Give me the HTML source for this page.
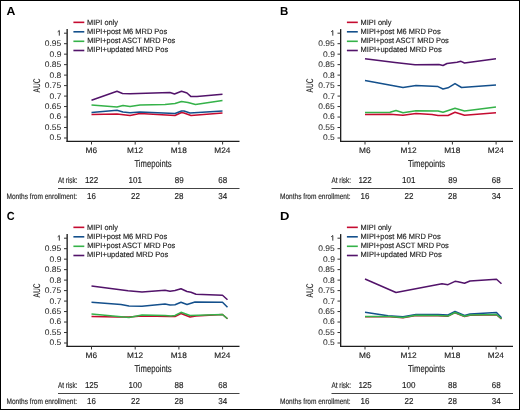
<!DOCTYPE html>
<html><head><meta charset="utf-8"><style>
html,body{margin:0;padding:0;background:#fff;}
svg{display:block;will-change:transform;}
text{font-family:"Liberation Sans",sans-serif;text-rendering:geometricPrecision;}
</style></head><body>
<svg width="520" height="410" viewBox="0 0 520 410">
<rect x="0" y="0" width="520" height="410" fill="#fff"/>
<g transform="translate(0,0)">
<text transform="translate(6.585,14.950) scale(1.0513,1)" font-size="11.7" font-weight="700" fill="#000">A</text>
<line x1="73.4" x2="84.3" y1="22.35" y2="22.35" stroke="#c50b30" stroke-width="1.6"/>
<text transform="translate(87.123,24.500) scale(0.9619,1)" font-size="7.7" font-weight="400" fill="#1e1e1e" stroke="#1e1e1e" stroke-width="0.15">MIPI only</text>
<line x1="73.4" x2="84.3" y1="31.8" y2="31.8" stroke="#14508c" stroke-width="1.6"/>
<text transform="translate(87.119,33.800) scale(0.9683,1)" font-size="7.7" font-weight="400" fill="#1e1e1e" stroke="#1e1e1e" stroke-width="0.15">MIPI+post M6 MRD Pos</text>
<line x1="73.4" x2="84.3" y1="41.3" y2="41.3" stroke="#35b249" stroke-width="1.6"/>
<text transform="translate(87.125,43.100) scale(0.9583,1)" font-size="7.7" font-weight="400" fill="#1e1e1e" stroke="#1e1e1e" stroke-width="0.15">MIPI+post ASCT MRD Pos</text>
<line x1="73.4" x2="84.3" y1="50.5" y2="50.5" stroke="#52136a" stroke-width="1.6"/>
<text transform="translate(87.115,52.400) scale(0.9757,1)" font-size="7.7" font-weight="400" fill="#1e1e1e" stroke="#1e1e1e" stroke-width="0.15">MIPI+updated MRD Pos</text>
<line x1="67.15" x2="67.15" y1="29.1" y2="142" stroke="#1e1e1e" stroke-width="1.35"/>
<line x1="66.5" x2="239.5" y1="141.35" y2="141.35" stroke="#1e1e1e" stroke-width="1.3"/>
<line x1="64" x2="67" y1="33.20" y2="33.20" stroke="#333333" stroke-width="1.0"/>
<path d="M57.7,31.80 L59.3,30.50 L59.3,35.65" fill="none" stroke="#2a2a2a" stroke-width="0.95" stroke-linejoin="miter"/>
<line x1="64" x2="67" y1="43.68" y2="43.68" stroke="#333333" stroke-width="1.0"/>
<text transform="translate(44.791,46.130) scale(1.0458,1)" font-size="8.1" font-weight="400" fill="#2a2a2a" stroke="#2a2a2a" stroke-width="0.05">0.95</text>
<line x1="64" x2="67" y1="54.16" y2="54.16" stroke="#333333" stroke-width="1.0"/>
<text transform="translate(49.601,56.610) scale(1.0458,1)" font-size="8.1" font-weight="400" fill="#2a2a2a" stroke="#2a2a2a" stroke-width="0.05">0.9</text>
<line x1="64" x2="67" y1="64.64" y2="64.64" stroke="#333333" stroke-width="1.0"/>
<text transform="translate(44.791,67.090) scale(1.0458,1)" font-size="8.1" font-weight="400" fill="#2a2a2a" stroke="#2a2a2a" stroke-width="0.05">0.85</text>
<line x1="64" x2="67" y1="75.12" y2="75.12" stroke="#333333" stroke-width="1.0"/>
<text transform="translate(49.497,77.570) scale(1.0458,1)" font-size="8.1" font-weight="400" fill="#2a2a2a" stroke="#2a2a2a" stroke-width="0.05">0.8</text>
<line x1="64" x2="67" y1="85.60" y2="85.60" stroke="#333333" stroke-width="1.0"/>
<text transform="translate(44.791,88.050) scale(1.0458,1)" font-size="8.1" font-weight="400" fill="#2a2a2a" stroke="#2a2a2a" stroke-width="0.05">0.75</text>
<line x1="64" x2="67" y1="96.08" y2="96.08" stroke="#333333" stroke-width="1.0"/>
<text transform="translate(49.601,98.530) scale(1.0458,1)" font-size="8.1" font-weight="400" fill="#2a2a2a" stroke="#2a2a2a" stroke-width="0.05">0.7</text>
<line x1="64" x2="67" y1="106.56" y2="106.56" stroke="#333333" stroke-width="1.0"/>
<text transform="translate(44.791,109.010) scale(1.0458,1)" font-size="8.1" font-weight="400" fill="#2a2a2a" stroke="#2a2a2a" stroke-width="0.05">0.65</text>
<line x1="64" x2="67" y1="117.04" y2="117.04" stroke="#333333" stroke-width="1.0"/>
<text transform="translate(49.497,119.490) scale(1.0458,1)" font-size="8.1" font-weight="400" fill="#2a2a2a" stroke="#2a2a2a" stroke-width="0.05">0.6</text>
<line x1="64" x2="67" y1="127.52" y2="127.52" stroke="#333333" stroke-width="1.0"/>
<text transform="translate(44.791,129.970) scale(1.0458,1)" font-size="8.1" font-weight="400" fill="#2a2a2a" stroke="#2a2a2a" stroke-width="0.05">0.55</text>
<line x1="64" x2="67" y1="138.00" y2="138.00" stroke="#333333" stroke-width="1.0"/>
<text transform="translate(49.497,140.450) scale(1.0458,1)" font-size="8.1" font-weight="400" fill="#2a2a2a" stroke="#2a2a2a" stroke-width="0.05">0.5</text>
<line x1="91.5" x2="91.5" y1="141.3" y2="144.5" stroke="#333333" stroke-width="1.0"/>
<text transform="translate(85.607,153.300) scale(1.0338,1)" font-size="8.0" font-weight="400" fill="#1e1e1e" stroke="#1e1e1e" stroke-width="0.15">M6</text>
<line x1="135.2" x2="135.2" y1="141.3" y2="144.5" stroke="#333333" stroke-width="1.0"/>
<text transform="translate(127.033,153.300) scale(1.0338,1)" font-size="8.0" font-weight="400" fill="#1e1e1e" stroke="#1e1e1e" stroke-width="0.15">M12</text>
<line x1="178.9" x2="178.9" y1="141.3" y2="144.5" stroke="#333333" stroke-width="1.0"/>
<text transform="translate(170.681,153.300) scale(1.0338,1)" font-size="8.0" font-weight="400" fill="#1e1e1e" stroke="#1e1e1e" stroke-width="0.15">M18</text>
<line x1="222.6" x2="222.6" y1="141.3" y2="144.5" stroke="#333333" stroke-width="1.0"/>
<text transform="translate(214.330,153.300) scale(1.0338,1)" font-size="8.0" font-weight="400" fill="#1e1e1e" stroke="#1e1e1e" stroke-width="0.15">M24</text>
<text transform="translate(134.447,166.500) scale(0.7667,1)" font-size="10" font-weight="400" fill="#1e1e1e" stroke="#1e1e1e" stroke-width="0.15">Timepoints</text>
<g transform="translate(39.6,92.5) rotate(-90)"><text transform="translate(0.068,0) scale(0.6847,1)" font-size="9.7" fill="#2a2a2a" stroke="#2a2a2a" stroke-width="0.06">AUC</text></g>
<text transform="translate(57.977,182.750) scale(0.7702,1)" font-size="8.3" font-weight="400" fill="#1e1e1e" stroke="#1e1e1e" stroke-width="0.15">At risk:</text>
<text transform="translate(6.509,198.900) scale(0.8188,1)" font-size="8.0" font-weight="400" fill="#1e1e1e" stroke="#1e1e1e" stroke-width="0.15">Months from enrollment:</text>
<text transform="translate(84.890,182.800) scale(0.9328,1)" font-size="8.6" font-weight="400" fill="#1e1e1e" stroke="#1e1e1e" stroke-width="0.15">122</text>
<text transform="translate(87.082,199.000) scale(0.9328,1)" font-size="8.6" font-weight="400" fill="#1e1e1e" stroke="#1e1e1e" stroke-width="0.15">16</text>
<text transform="translate(128.590,182.800) scale(0.9328,1)" font-size="8.6" font-weight="400" fill="#1e1e1e" stroke="#1e1e1e" stroke-width="0.15">101</text>
<text transform="translate(130.922,199.000) scale(0.9328,1)" font-size="8.6" font-weight="400" fill="#1e1e1e" stroke="#1e1e1e" stroke-width="0.15">22</text>
<text transform="translate(174.669,182.800) scale(0.9328,1)" font-size="8.6" font-weight="400" fill="#1e1e1e" stroke="#1e1e1e" stroke-width="0.15">89</text>
<text transform="translate(174.576,199.000) scale(0.9328,1)" font-size="8.6" font-weight="400" fill="#1e1e1e" stroke="#1e1e1e" stroke-width="0.15">28</text>
<text transform="translate(218.276,182.800) scale(0.9328,1)" font-size="8.6" font-weight="400" fill="#1e1e1e" stroke="#1e1e1e" stroke-width="0.15">68</text>
<text transform="translate(218.322,199.000) scale(0.9328,1)" font-size="8.6" font-weight="400" fill="#1e1e1e" stroke="#1e1e1e" stroke-width="0.15">34</text>
<line x1="58" x2="239.5" y1="188.5" y2="188.5" stroke="#444444" stroke-width="1.2"/>
<polyline points="91.5,114.5 117.0,114.0 130.0,115.5 140.0,113.5 175.0,115.5 181.5,112.5 184.0,113.0 191.0,115.5 222.5,113.0" fill="none" stroke="#c50b30" stroke-width="1.5" stroke-linejoin="round"/>
<polyline points="91.5,112.5 117.0,110.3 123.0,112.0 130.0,112.7 140.0,112.0 175.0,113.5 181.5,111.0 184.0,111.0 190.0,113.0 222.5,111.0" fill="none" stroke="#14508c" stroke-width="1.5" stroke-linejoin="round"/>
<polyline points="91.5,105.0 117.0,107.0 123.0,105.5 130.0,106.5 140.0,105.0 165.0,104.5 175.0,103.5 181.5,101.5 188.0,102.5 195.5,104.5 222.5,100.5" fill="none" stroke="#35b249" stroke-width="1.5" stroke-linejoin="round"/>
<polyline points="91.5,100.3 117.0,91.3 122.5,93.5 130.0,93.7 170.0,92.5 174.5,94.0 181.5,91.3 184.0,92.0 187.0,93.0 191.0,96.6 197.0,96.4 222.5,94.2" fill="none" stroke="#52136a" stroke-width="1.5" stroke-linejoin="round"/>
</g>
<g transform="translate(273.5,0)">
<text transform="translate(6.611,14.950) scale(0.9859,1)" font-size="11.7" font-weight="700" fill="#000">B</text>
<line x1="73.4" x2="84.3" y1="22.35" y2="22.35" stroke="#c50b30" stroke-width="1.6"/>
<text transform="translate(87.123,24.500) scale(0.9619,1)" font-size="7.7" font-weight="400" fill="#1e1e1e" stroke="#1e1e1e" stroke-width="0.15">MIPI only</text>
<line x1="73.4" x2="84.3" y1="31.8" y2="31.8" stroke="#14508c" stroke-width="1.6"/>
<text transform="translate(87.119,33.800) scale(0.9683,1)" font-size="7.7" font-weight="400" fill="#1e1e1e" stroke="#1e1e1e" stroke-width="0.15">MIPI+post M6 MRD Pos</text>
<line x1="73.4" x2="84.3" y1="41.3" y2="41.3" stroke="#35b249" stroke-width="1.6"/>
<text transform="translate(87.125,43.100) scale(0.9583,1)" font-size="7.7" font-weight="400" fill="#1e1e1e" stroke="#1e1e1e" stroke-width="0.15">MIPI+post ASCT MRD Pos</text>
<line x1="73.4" x2="84.3" y1="50.5" y2="50.5" stroke="#52136a" stroke-width="1.6"/>
<text transform="translate(87.115,52.400) scale(0.9757,1)" font-size="7.7" font-weight="400" fill="#1e1e1e" stroke="#1e1e1e" stroke-width="0.15">MIPI+updated MRD Pos</text>
<line x1="67.15" x2="67.15" y1="29.1" y2="142" stroke="#1e1e1e" stroke-width="1.35"/>
<line x1="66.5" x2="239.5" y1="141.35" y2="141.35" stroke="#1e1e1e" stroke-width="1.3"/>
<line x1="64" x2="67" y1="33.20" y2="33.20" stroke="#333333" stroke-width="1.0"/>
<path d="M57.7,31.80 L59.3,30.50 L59.3,35.65" fill="none" stroke="#2a2a2a" stroke-width="0.95" stroke-linejoin="miter"/>
<line x1="64" x2="67" y1="43.68" y2="43.68" stroke="#333333" stroke-width="1.0"/>
<text transform="translate(44.791,46.130) scale(1.0458,1)" font-size="8.1" font-weight="400" fill="#2a2a2a" stroke="#2a2a2a" stroke-width="0.05">0.95</text>
<line x1="64" x2="67" y1="54.16" y2="54.16" stroke="#333333" stroke-width="1.0"/>
<text transform="translate(49.601,56.610) scale(1.0458,1)" font-size="8.1" font-weight="400" fill="#2a2a2a" stroke="#2a2a2a" stroke-width="0.05">0.9</text>
<line x1="64" x2="67" y1="64.64" y2="64.64" stroke="#333333" stroke-width="1.0"/>
<text transform="translate(44.791,67.090) scale(1.0458,1)" font-size="8.1" font-weight="400" fill="#2a2a2a" stroke="#2a2a2a" stroke-width="0.05">0.85</text>
<line x1="64" x2="67" y1="75.12" y2="75.12" stroke="#333333" stroke-width="1.0"/>
<text transform="translate(49.497,77.570) scale(1.0458,1)" font-size="8.1" font-weight="400" fill="#2a2a2a" stroke="#2a2a2a" stroke-width="0.05">0.8</text>
<line x1="64" x2="67" y1="85.60" y2="85.60" stroke="#333333" stroke-width="1.0"/>
<text transform="translate(44.791,88.050) scale(1.0458,1)" font-size="8.1" font-weight="400" fill="#2a2a2a" stroke="#2a2a2a" stroke-width="0.05">0.75</text>
<line x1="64" x2="67" y1="96.08" y2="96.08" stroke="#333333" stroke-width="1.0"/>
<text transform="translate(49.601,98.530) scale(1.0458,1)" font-size="8.1" font-weight="400" fill="#2a2a2a" stroke="#2a2a2a" stroke-width="0.05">0.7</text>
<line x1="64" x2="67" y1="106.56" y2="106.56" stroke="#333333" stroke-width="1.0"/>
<text transform="translate(44.791,109.010) scale(1.0458,1)" font-size="8.1" font-weight="400" fill="#2a2a2a" stroke="#2a2a2a" stroke-width="0.05">0.65</text>
<line x1="64" x2="67" y1="117.04" y2="117.04" stroke="#333333" stroke-width="1.0"/>
<text transform="translate(49.497,119.490) scale(1.0458,1)" font-size="8.1" font-weight="400" fill="#2a2a2a" stroke="#2a2a2a" stroke-width="0.05">0.6</text>
<line x1="64" x2="67" y1="127.52" y2="127.52" stroke="#333333" stroke-width="1.0"/>
<text transform="translate(44.791,129.970) scale(1.0458,1)" font-size="8.1" font-weight="400" fill="#2a2a2a" stroke="#2a2a2a" stroke-width="0.05">0.55</text>
<line x1="64" x2="67" y1="138.00" y2="138.00" stroke="#333333" stroke-width="1.0"/>
<text transform="translate(49.497,140.450) scale(1.0458,1)" font-size="8.1" font-weight="400" fill="#2a2a2a" stroke="#2a2a2a" stroke-width="0.05">0.5</text>
<line x1="91.5" x2="91.5" y1="141.3" y2="144.5" stroke="#333333" stroke-width="1.0"/>
<text transform="translate(85.607,153.300) scale(1.0338,1)" font-size="8.0" font-weight="400" fill="#1e1e1e" stroke="#1e1e1e" stroke-width="0.15">M6</text>
<line x1="135.2" x2="135.2" y1="141.3" y2="144.5" stroke="#333333" stroke-width="1.0"/>
<text transform="translate(127.033,153.300) scale(1.0338,1)" font-size="8.0" font-weight="400" fill="#1e1e1e" stroke="#1e1e1e" stroke-width="0.15">M12</text>
<line x1="178.9" x2="178.9" y1="141.3" y2="144.5" stroke="#333333" stroke-width="1.0"/>
<text transform="translate(170.681,153.300) scale(1.0338,1)" font-size="8.0" font-weight="400" fill="#1e1e1e" stroke="#1e1e1e" stroke-width="0.15">M18</text>
<line x1="222.6" x2="222.6" y1="141.3" y2="144.5" stroke="#333333" stroke-width="1.0"/>
<text transform="translate(214.330,153.300) scale(1.0338,1)" font-size="8.0" font-weight="400" fill="#1e1e1e" stroke="#1e1e1e" stroke-width="0.15">M24</text>
<text transform="translate(134.447,166.500) scale(0.7667,1)" font-size="10" font-weight="400" fill="#1e1e1e" stroke="#1e1e1e" stroke-width="0.15">Timepoints</text>
<g transform="translate(39.6,92.5) rotate(-90)"><text transform="translate(0.068,0) scale(0.6847,1)" font-size="9.7" fill="#2a2a2a" stroke="#2a2a2a" stroke-width="0.06">AUC</text></g>
<text transform="translate(57.977,182.750) scale(0.7702,1)" font-size="8.3" font-weight="400" fill="#1e1e1e" stroke="#1e1e1e" stroke-width="0.15">At risk:</text>
<text transform="translate(6.509,198.900) scale(0.8188,1)" font-size="8.0" font-weight="400" fill="#1e1e1e" stroke="#1e1e1e" stroke-width="0.15">Months from enrollment:</text>
<text transform="translate(84.890,182.800) scale(0.9328,1)" font-size="8.6" font-weight="400" fill="#1e1e1e" stroke="#1e1e1e" stroke-width="0.15">122</text>
<text transform="translate(87.082,199.000) scale(0.9328,1)" font-size="8.6" font-weight="400" fill="#1e1e1e" stroke="#1e1e1e" stroke-width="0.15">16</text>
<text transform="translate(128.590,182.800) scale(0.9328,1)" font-size="8.6" font-weight="400" fill="#1e1e1e" stroke="#1e1e1e" stroke-width="0.15">101</text>
<text transform="translate(130.922,199.000) scale(0.9328,1)" font-size="8.6" font-weight="400" fill="#1e1e1e" stroke="#1e1e1e" stroke-width="0.15">22</text>
<text transform="translate(174.669,182.800) scale(0.9328,1)" font-size="8.6" font-weight="400" fill="#1e1e1e" stroke="#1e1e1e" stroke-width="0.15">89</text>
<text transform="translate(174.576,199.000) scale(0.9328,1)" font-size="8.6" font-weight="400" fill="#1e1e1e" stroke="#1e1e1e" stroke-width="0.15">28</text>
<text transform="translate(218.276,182.800) scale(0.9328,1)" font-size="8.6" font-weight="400" fill="#1e1e1e" stroke="#1e1e1e" stroke-width="0.15">68</text>
<text transform="translate(218.322,199.000) scale(0.9328,1)" font-size="8.6" font-weight="400" fill="#1e1e1e" stroke="#1e1e1e" stroke-width="0.15">34</text>
<line x1="58" x2="239.5" y1="188.5" y2="188.5" stroke="#444444" stroke-width="1.2"/>
<polyline points="91.5,114.5 116.5,114.2 129.5,115.3 142.5,113.5 158.5,114.5 164.5,115.5 174.5,115.5 181.5,112.3 191.0,115.3 222.5,112.7" fill="none" stroke="#c50b30" stroke-width="1.5" stroke-linejoin="round"/>
<polyline points="91.5,80.5 129.5,87.5 142.5,85.5 164.5,86.6 169.5,89.0 174.5,87.8 181.5,83.6 188.0,87.5 222.5,85.0" fill="none" stroke="#14508c" stroke-width="1.5" stroke-linejoin="round"/>
<polyline points="91.5,112.5 116.5,112.3 122.5,110.5 129.5,112.7 142.5,110.7 164.5,111.0 169.5,112.3 181.5,108.3 191.0,111.0 222.5,107.0" fill="none" stroke="#35b249" stroke-width="1.5" stroke-linejoin="round"/>
<polyline points="91.5,58.7 121.5,62.5 141.5,64.7 165.5,64.6 169.5,65.5 173.5,63.5 183.5,62.2 187.5,61.3 191.0,63.0 222.5,58.7" fill="none" stroke="#52136a" stroke-width="1.5" stroke-linejoin="round"/>
</g>
<g transform="translate(0,205)">
<text transform="translate(6.633,14.950) scale(0.9342,1)" font-size="11.7" font-weight="700" fill="#000">C</text>
<line x1="73.4" x2="84.3" y1="22.35" y2="22.35" stroke="#c50b30" stroke-width="1.6"/>
<text transform="translate(87.123,24.500) scale(0.9619,1)" font-size="7.7" font-weight="400" fill="#1e1e1e" stroke="#1e1e1e" stroke-width="0.15">MIPI only</text>
<line x1="73.4" x2="84.3" y1="31.8" y2="31.8" stroke="#14508c" stroke-width="1.6"/>
<text transform="translate(87.119,33.800) scale(0.9683,1)" font-size="7.7" font-weight="400" fill="#1e1e1e" stroke="#1e1e1e" stroke-width="0.15">MIPI+post M6 MRD Pos</text>
<line x1="73.4" x2="84.3" y1="41.3" y2="41.3" stroke="#35b249" stroke-width="1.6"/>
<text transform="translate(87.125,43.100) scale(0.9583,1)" font-size="7.7" font-weight="400" fill="#1e1e1e" stroke="#1e1e1e" stroke-width="0.15">MIPI+post ASCT MRD Pos</text>
<line x1="73.4" x2="84.3" y1="50.5" y2="50.5" stroke="#52136a" stroke-width="1.6"/>
<text transform="translate(87.115,52.400) scale(0.9757,1)" font-size="7.7" font-weight="400" fill="#1e1e1e" stroke="#1e1e1e" stroke-width="0.15">MIPI+updated MRD Pos</text>
<line x1="67.15" x2="67.15" y1="29.1" y2="142" stroke="#1e1e1e" stroke-width="1.35"/>
<line x1="66.5" x2="239.5" y1="141.35" y2="141.35" stroke="#1e1e1e" stroke-width="1.3"/>
<line x1="64" x2="67" y1="33.20" y2="33.20" stroke="#333333" stroke-width="1.0"/>
<path d="M57.7,31.80 L59.3,30.50 L59.3,35.65" fill="none" stroke="#2a2a2a" stroke-width="0.95" stroke-linejoin="miter"/>
<line x1="64" x2="67" y1="43.68" y2="43.68" stroke="#333333" stroke-width="1.0"/>
<text transform="translate(44.791,46.130) scale(1.0458,1)" font-size="8.1" font-weight="400" fill="#2a2a2a" stroke="#2a2a2a" stroke-width="0.05">0.95</text>
<line x1="64" x2="67" y1="54.16" y2="54.16" stroke="#333333" stroke-width="1.0"/>
<text transform="translate(49.601,56.610) scale(1.0458,1)" font-size="8.1" font-weight="400" fill="#2a2a2a" stroke="#2a2a2a" stroke-width="0.05">0.9</text>
<line x1="64" x2="67" y1="64.64" y2="64.64" stroke="#333333" stroke-width="1.0"/>
<text transform="translate(44.791,67.090) scale(1.0458,1)" font-size="8.1" font-weight="400" fill="#2a2a2a" stroke="#2a2a2a" stroke-width="0.05">0.85</text>
<line x1="64" x2="67" y1="75.12" y2="75.12" stroke="#333333" stroke-width="1.0"/>
<text transform="translate(49.497,77.570) scale(1.0458,1)" font-size="8.1" font-weight="400" fill="#2a2a2a" stroke="#2a2a2a" stroke-width="0.05">0.8</text>
<line x1="64" x2="67" y1="85.60" y2="85.60" stroke="#333333" stroke-width="1.0"/>
<text transform="translate(44.791,88.050) scale(1.0458,1)" font-size="8.1" font-weight="400" fill="#2a2a2a" stroke="#2a2a2a" stroke-width="0.05">0.75</text>
<line x1="64" x2="67" y1="96.08" y2="96.08" stroke="#333333" stroke-width="1.0"/>
<text transform="translate(49.601,98.530) scale(1.0458,1)" font-size="8.1" font-weight="400" fill="#2a2a2a" stroke="#2a2a2a" stroke-width="0.05">0.7</text>
<line x1="64" x2="67" y1="106.56" y2="106.56" stroke="#333333" stroke-width="1.0"/>
<text transform="translate(44.791,109.010) scale(1.0458,1)" font-size="8.1" font-weight="400" fill="#2a2a2a" stroke="#2a2a2a" stroke-width="0.05">0.65</text>
<line x1="64" x2="67" y1="117.04" y2="117.04" stroke="#333333" stroke-width="1.0"/>
<text transform="translate(49.497,119.490) scale(1.0458,1)" font-size="8.1" font-weight="400" fill="#2a2a2a" stroke="#2a2a2a" stroke-width="0.05">0.6</text>
<line x1="64" x2="67" y1="127.52" y2="127.52" stroke="#333333" stroke-width="1.0"/>
<text transform="translate(44.791,129.970) scale(1.0458,1)" font-size="8.1" font-weight="400" fill="#2a2a2a" stroke="#2a2a2a" stroke-width="0.05">0.55</text>
<line x1="64" x2="67" y1="138.00" y2="138.00" stroke="#333333" stroke-width="1.0"/>
<text transform="translate(49.497,140.450) scale(1.0458,1)" font-size="8.1" font-weight="400" fill="#2a2a2a" stroke="#2a2a2a" stroke-width="0.05">0.5</text>
<line x1="91.5" x2="91.5" y1="141.3" y2="144.5" stroke="#333333" stroke-width="1.0"/>
<text transform="translate(85.607,153.300) scale(1.0338,1)" font-size="8.0" font-weight="400" fill="#1e1e1e" stroke="#1e1e1e" stroke-width="0.15">M6</text>
<line x1="135.2" x2="135.2" y1="141.3" y2="144.5" stroke="#333333" stroke-width="1.0"/>
<text transform="translate(127.033,153.300) scale(1.0338,1)" font-size="8.0" font-weight="400" fill="#1e1e1e" stroke="#1e1e1e" stroke-width="0.15">M12</text>
<line x1="178.9" x2="178.9" y1="141.3" y2="144.5" stroke="#333333" stroke-width="1.0"/>
<text transform="translate(170.681,153.300) scale(1.0338,1)" font-size="8.0" font-weight="400" fill="#1e1e1e" stroke="#1e1e1e" stroke-width="0.15">M18</text>
<line x1="222.6" x2="222.6" y1="141.3" y2="144.5" stroke="#333333" stroke-width="1.0"/>
<text transform="translate(214.330,153.300) scale(1.0338,1)" font-size="8.0" font-weight="400" fill="#1e1e1e" stroke="#1e1e1e" stroke-width="0.15">M24</text>
<text transform="translate(134.447,166.500) scale(0.7667,1)" font-size="10" font-weight="400" fill="#1e1e1e" stroke="#1e1e1e" stroke-width="0.15">Timepoints</text>
<g transform="translate(39.6,92.5) rotate(-90)"><text transform="translate(0.068,0) scale(0.6847,1)" font-size="9.7" fill="#2a2a2a" stroke="#2a2a2a" stroke-width="0.06">AUC</text></g>
<text transform="translate(57.977,182.750) scale(0.7702,1)" font-size="8.3" font-weight="400" fill="#1e1e1e" stroke="#1e1e1e" stroke-width="0.15">At risk:</text>
<text transform="translate(6.509,198.900) scale(0.8188,1)" font-size="8.0" font-weight="400" fill="#1e1e1e" stroke="#1e1e1e" stroke-width="0.15">Months from enrollment:</text>
<text transform="translate(84.890,182.800) scale(0.9328,1)" font-size="8.6" font-weight="400" fill="#1e1e1e" stroke="#1e1e1e" stroke-width="0.15">125</text>
<text transform="translate(87.082,199.000) scale(0.9328,1)" font-size="8.6" font-weight="400" fill="#1e1e1e" stroke="#1e1e1e" stroke-width="0.15">16</text>
<text transform="translate(128.544,182.800) scale(0.9328,1)" font-size="8.6" font-weight="400" fill="#1e1e1e" stroke="#1e1e1e" stroke-width="0.15">100</text>
<text transform="translate(130.922,199.000) scale(0.9328,1)" font-size="8.6" font-weight="400" fill="#1e1e1e" stroke="#1e1e1e" stroke-width="0.15">22</text>
<text transform="translate(174.622,182.800) scale(0.9328,1)" font-size="8.6" font-weight="400" fill="#1e1e1e" stroke="#1e1e1e" stroke-width="0.15">88</text>
<text transform="translate(174.576,199.000) scale(0.9328,1)" font-size="8.6" font-weight="400" fill="#1e1e1e" stroke="#1e1e1e" stroke-width="0.15">28</text>
<text transform="translate(218.276,182.800) scale(0.9328,1)" font-size="8.6" font-weight="400" fill="#1e1e1e" stroke="#1e1e1e" stroke-width="0.15">68</text>
<text transform="translate(218.322,199.000) scale(0.9328,1)" font-size="8.6" font-weight="400" fill="#1e1e1e" stroke="#1e1e1e" stroke-width="0.15">34</text>
<line x1="58" x2="239.5" y1="188.5" y2="188.5" stroke="#444444" stroke-width="1.2"/>
<polyline points="91.5,111.5 118.0,112.0 129.0,112.0 142.0,111.0 170.0,111.5 175.0,111.5 181.0,108.5 190.0,112.0 196.0,111.0 222.5,109.5 227.5,113.8" fill="none" stroke="#c50b30" stroke-width="1.5" stroke-linejoin="round"/>
<polyline points="91.5,97.2 121.0,99.5 129.0,101.0 142.0,101.3 165.0,99.0 170.0,100.0 175.0,99.7 181.0,97.3 187.0,99.5 195.0,97.0 222.5,97.3 227.5,102.3" fill="none" stroke="#14508c" stroke-width="1.5" stroke-linejoin="round"/>
<polyline points="91.5,109.0 129.0,112.5 142.0,110.0 165.0,110.5 171.0,111.0 175.0,110.5 181.0,107.3 190.0,110.5 222.5,109.5 227.5,113.8" fill="none" stroke="#35b249" stroke-width="1.5" stroke-linejoin="round"/>
<polyline points="91.5,81.0 128.0,85.8 142.0,87.0 165.0,85.2 170.0,86.2 175.0,85.5 181.0,83.7 187.0,86.5 191.0,87.3 196.0,89.3 222.5,90.3 227.5,94.8" fill="none" stroke="#52136a" stroke-width="1.5" stroke-linejoin="round"/>
</g>
<g transform="translate(273.5,205)">
<text transform="translate(6.511,14.950) scale(1.1111,1)" font-size="11.7" font-weight="700" fill="#000">D</text>
<line x1="73.4" x2="84.3" y1="22.35" y2="22.35" stroke="#c50b30" stroke-width="1.6"/>
<text transform="translate(87.123,24.500) scale(0.9619,1)" font-size="7.7" font-weight="400" fill="#1e1e1e" stroke="#1e1e1e" stroke-width="0.15">MIPI only</text>
<line x1="73.4" x2="84.3" y1="31.8" y2="31.8" stroke="#14508c" stroke-width="1.6"/>
<text transform="translate(87.119,33.800) scale(0.9683,1)" font-size="7.7" font-weight="400" fill="#1e1e1e" stroke="#1e1e1e" stroke-width="0.15">MIPI+post M6 MRD Pos</text>
<line x1="73.4" x2="84.3" y1="41.3" y2="41.3" stroke="#35b249" stroke-width="1.6"/>
<text transform="translate(87.125,43.100) scale(0.9583,1)" font-size="7.7" font-weight="400" fill="#1e1e1e" stroke="#1e1e1e" stroke-width="0.15">MIPI+post ASCT MRD Pos</text>
<line x1="73.4" x2="84.3" y1="50.5" y2="50.5" stroke="#52136a" stroke-width="1.6"/>
<text transform="translate(87.115,52.400) scale(0.9757,1)" font-size="7.7" font-weight="400" fill="#1e1e1e" stroke="#1e1e1e" stroke-width="0.15">MIPI+updated MRD Pos</text>
<line x1="67.15" x2="67.15" y1="29.1" y2="142" stroke="#1e1e1e" stroke-width="1.35"/>
<line x1="66.5" x2="239.5" y1="141.35" y2="141.35" stroke="#1e1e1e" stroke-width="1.3"/>
<line x1="64" x2="67" y1="33.20" y2="33.20" stroke="#333333" stroke-width="1.0"/>
<path d="M57.7,31.80 L59.3,30.50 L59.3,35.65" fill="none" stroke="#2a2a2a" stroke-width="0.95" stroke-linejoin="miter"/>
<line x1="64" x2="67" y1="43.68" y2="43.68" stroke="#333333" stroke-width="1.0"/>
<text transform="translate(44.791,46.130) scale(1.0458,1)" font-size="8.1" font-weight="400" fill="#2a2a2a" stroke="#2a2a2a" stroke-width="0.05">0.95</text>
<line x1="64" x2="67" y1="54.16" y2="54.16" stroke="#333333" stroke-width="1.0"/>
<text transform="translate(49.601,56.610) scale(1.0458,1)" font-size="8.1" font-weight="400" fill="#2a2a2a" stroke="#2a2a2a" stroke-width="0.05">0.9</text>
<line x1="64" x2="67" y1="64.64" y2="64.64" stroke="#333333" stroke-width="1.0"/>
<text transform="translate(44.791,67.090) scale(1.0458,1)" font-size="8.1" font-weight="400" fill="#2a2a2a" stroke="#2a2a2a" stroke-width="0.05">0.85</text>
<line x1="64" x2="67" y1="75.12" y2="75.12" stroke="#333333" stroke-width="1.0"/>
<text transform="translate(49.497,77.570) scale(1.0458,1)" font-size="8.1" font-weight="400" fill="#2a2a2a" stroke="#2a2a2a" stroke-width="0.05">0.8</text>
<line x1="64" x2="67" y1="85.60" y2="85.60" stroke="#333333" stroke-width="1.0"/>
<text transform="translate(44.791,88.050) scale(1.0458,1)" font-size="8.1" font-weight="400" fill="#2a2a2a" stroke="#2a2a2a" stroke-width="0.05">0.75</text>
<line x1="64" x2="67" y1="96.08" y2="96.08" stroke="#333333" stroke-width="1.0"/>
<text transform="translate(49.601,98.530) scale(1.0458,1)" font-size="8.1" font-weight="400" fill="#2a2a2a" stroke="#2a2a2a" stroke-width="0.05">0.7</text>
<line x1="64" x2="67" y1="106.56" y2="106.56" stroke="#333333" stroke-width="1.0"/>
<text transform="translate(44.791,109.010) scale(1.0458,1)" font-size="8.1" font-weight="400" fill="#2a2a2a" stroke="#2a2a2a" stroke-width="0.05">0.65</text>
<line x1="64" x2="67" y1="117.04" y2="117.04" stroke="#333333" stroke-width="1.0"/>
<text transform="translate(49.497,119.490) scale(1.0458,1)" font-size="8.1" font-weight="400" fill="#2a2a2a" stroke="#2a2a2a" stroke-width="0.05">0.6</text>
<line x1="64" x2="67" y1="127.52" y2="127.52" stroke="#333333" stroke-width="1.0"/>
<text transform="translate(44.791,129.970) scale(1.0458,1)" font-size="8.1" font-weight="400" fill="#2a2a2a" stroke="#2a2a2a" stroke-width="0.05">0.55</text>
<line x1="64" x2="67" y1="138.00" y2="138.00" stroke="#333333" stroke-width="1.0"/>
<text transform="translate(49.497,140.450) scale(1.0458,1)" font-size="8.1" font-weight="400" fill="#2a2a2a" stroke="#2a2a2a" stroke-width="0.05">0.5</text>
<line x1="91.5" x2="91.5" y1="141.3" y2="144.5" stroke="#333333" stroke-width="1.0"/>
<text transform="translate(85.607,153.300) scale(1.0338,1)" font-size="8.0" font-weight="400" fill="#1e1e1e" stroke="#1e1e1e" stroke-width="0.15">M6</text>
<line x1="135.2" x2="135.2" y1="141.3" y2="144.5" stroke="#333333" stroke-width="1.0"/>
<text transform="translate(127.033,153.300) scale(1.0338,1)" font-size="8.0" font-weight="400" fill="#1e1e1e" stroke="#1e1e1e" stroke-width="0.15">M12</text>
<line x1="178.9" x2="178.9" y1="141.3" y2="144.5" stroke="#333333" stroke-width="1.0"/>
<text transform="translate(170.681,153.300) scale(1.0338,1)" font-size="8.0" font-weight="400" fill="#1e1e1e" stroke="#1e1e1e" stroke-width="0.15">M18</text>
<line x1="222.6" x2="222.6" y1="141.3" y2="144.5" stroke="#333333" stroke-width="1.0"/>
<text transform="translate(214.330,153.300) scale(1.0338,1)" font-size="8.0" font-weight="400" fill="#1e1e1e" stroke="#1e1e1e" stroke-width="0.15">M24</text>
<text transform="translate(134.447,166.500) scale(0.7667,1)" font-size="10" font-weight="400" fill="#1e1e1e" stroke="#1e1e1e" stroke-width="0.15">Timepoints</text>
<g transform="translate(39.6,92.5) rotate(-90)"><text transform="translate(0.068,0) scale(0.6847,1)" font-size="9.7" fill="#2a2a2a" stroke="#2a2a2a" stroke-width="0.06">AUC</text></g>
<text transform="translate(57.977,182.750) scale(0.7702,1)" font-size="8.3" font-weight="400" fill="#1e1e1e" stroke="#1e1e1e" stroke-width="0.15">At risk:</text>
<text transform="translate(6.509,198.900) scale(0.8188,1)" font-size="8.0" font-weight="400" fill="#1e1e1e" stroke="#1e1e1e" stroke-width="0.15">Months from enrollment:</text>
<text transform="translate(84.890,182.800) scale(0.9328,1)" font-size="8.6" font-weight="400" fill="#1e1e1e" stroke="#1e1e1e" stroke-width="0.15">125</text>
<text transform="translate(87.082,199.000) scale(0.9328,1)" font-size="8.6" font-weight="400" fill="#1e1e1e" stroke="#1e1e1e" stroke-width="0.15">16</text>
<text transform="translate(128.544,182.800) scale(0.9328,1)" font-size="8.6" font-weight="400" fill="#1e1e1e" stroke="#1e1e1e" stroke-width="0.15">100</text>
<text transform="translate(130.922,199.000) scale(0.9328,1)" font-size="8.6" font-weight="400" fill="#1e1e1e" stroke="#1e1e1e" stroke-width="0.15">22</text>
<text transform="translate(174.622,182.800) scale(0.9328,1)" font-size="8.6" font-weight="400" fill="#1e1e1e" stroke="#1e1e1e" stroke-width="0.15">88</text>
<text transform="translate(174.576,199.000) scale(0.9328,1)" font-size="8.6" font-weight="400" fill="#1e1e1e" stroke="#1e1e1e" stroke-width="0.15">28</text>
<text transform="translate(218.276,182.800) scale(0.9328,1)" font-size="8.6" font-weight="400" fill="#1e1e1e" stroke="#1e1e1e" stroke-width="0.15">68</text>
<text transform="translate(218.322,199.000) scale(0.9328,1)" font-size="8.6" font-weight="400" fill="#1e1e1e" stroke="#1e1e1e" stroke-width="0.15">34</text>
<line x1="58" x2="239.5" y1="188.5" y2="188.5" stroke="#444444" stroke-width="1.2"/>
<polyline points="91.5,111.7 116.5,111.7 129.5,112.7 142.5,110.4 164.5,110.7 174.5,111.2 181.5,107.7 191.0,111.5 196.5,110.2 223.0,109.7 228.0,114.0" fill="none" stroke="#c50b30" stroke-width="1.5" stroke-linejoin="round"/>
<polyline points="91.5,107.3 114.5,110.8 129.5,111.8 142.5,109.5 164.5,109.5 174.5,110.0 181.5,106.5 191.0,110.5 196.5,109.0 223.0,107.5 228.0,112.8" fill="none" stroke="#14508c" stroke-width="1.5" stroke-linejoin="round"/>
<polyline points="91.5,111.5 116.5,111.5 129.5,112.5 142.5,110.2 164.5,110.5 174.5,111.0 181.5,107.5 191.0,111.3 196.5,110.0 223.0,109.5 228.0,113.8" fill="none" stroke="#35b249" stroke-width="1.5" stroke-linejoin="round"/>
<polyline points="91.5,74.0 122.5,87.5 168.5,78.8 174.5,79.7 181.5,76.3 184.5,76.7 191.0,78.3 196.5,76.0 223.0,74.3 228.0,78.8" fill="none" stroke="#52136a" stroke-width="1.5" stroke-linejoin="round"/>
</g>
<rect x="0.5" y="0.5" width="519" height="409" fill="none" stroke="#000" stroke-width="1"/>
</svg></body></html>
